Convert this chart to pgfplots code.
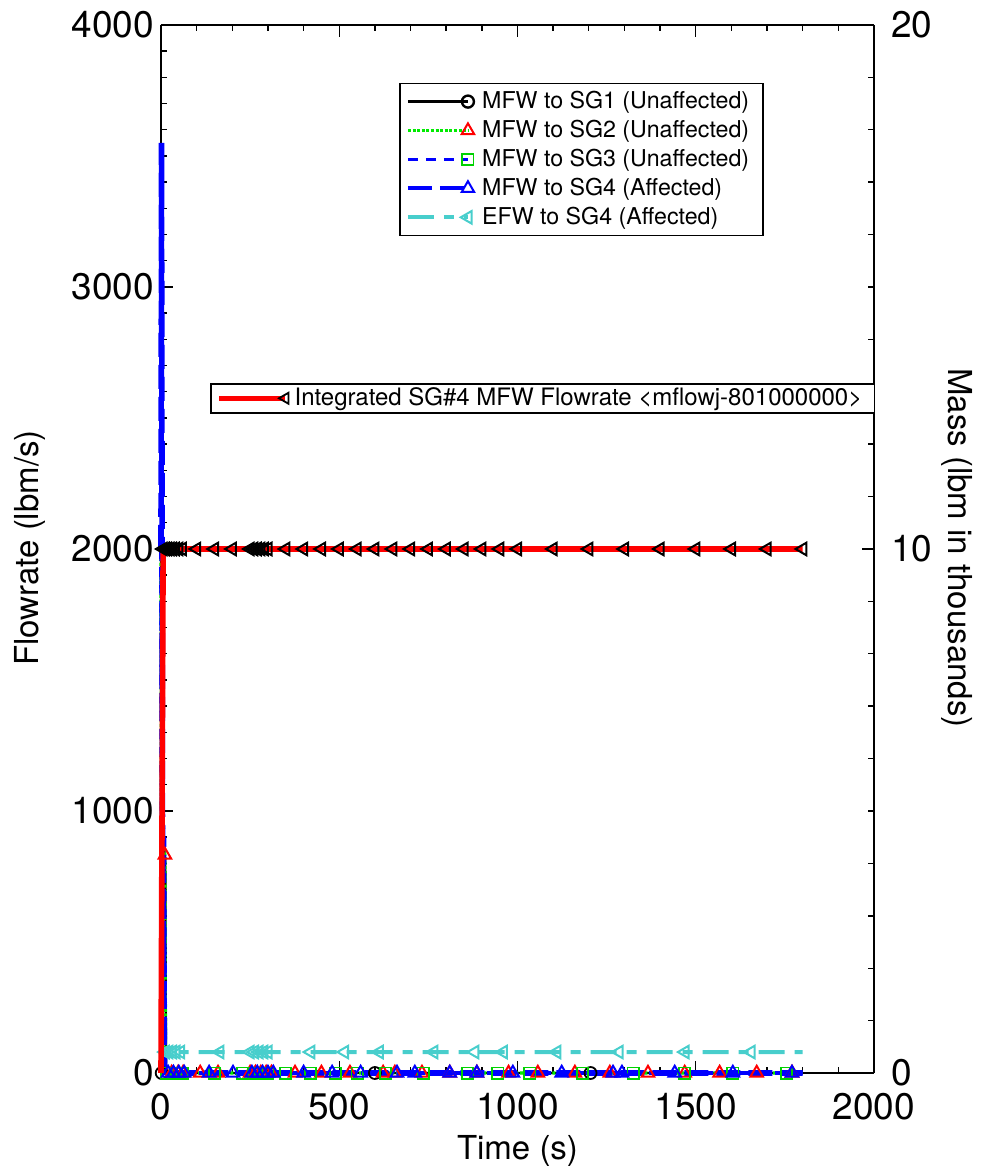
\documentclass[border=0pt]{standalone}
\usepackage{pgfplots}
\pgfplotsset{compat=1.18}
\usepackage{fontspec}
\setmainfont{TeX Gyre Heros}
\definecolor{efw}{RGB}{72,206,204}
\definecolor{sggreen}{RGB}{0,235,0}
\definecolor{sqgreen}{RGB}{0,210,0}

\pgfplotsset{
  common/.style={
    scale only axis, width=356.5pt, height=524pt,
    xmin=0, xmax=2000, clip=false,
    tick align=inside, major tick length=6pt, minor tick length=3pt,
    every tick/.style={black, line width=0.7pt},
    axis line style={line width=1pt},
    tick label style={font=\fontsize{18.5}{20}\selectfont},
    label style={font=\fontsize{16.5}{18}\selectfont},
    /pgf/number format/assume math mode=true,
    legend cell align=left,
  },
  endmark/.style={legend image code/.code={
    \draw[##1, mark=none] (0pt,0pt) -- (#1,0pt);
    \draw[##1, solid] plot coordinates {(#1,0pt)};}},
}

\begin{document}
\begin{tikzpicture}
\begin{axis}[common, name=ax,
  axis y line*=left,
  ymin=0, ymax=4000, ytick={0,1000,...,4000}, minor y tick num=9,
  xtick={0,500,...,2000}, minor x tick num=4,
  /pgf/number format/1000 sep={},
  xticklabel shift=6.5pt,
  xlabel={Time (s)}, ylabel={Flowrate (lbm/s)},
  xlabel style={at={(axis description cs:0.5,-0.074)}, anchor=center},
  ylabel style={at={(axis description cs:-0.184,0.501)}, anchor=center},
  endmark=30pt,
  legend style={at={(0.334,0.945)}, anchor=north west, draw=black, line width=0.8pt,
    font=\fontsize{11.6}{13}\selectfont, row sep=0.3pt,
    nodes={inner xsep=4pt}},
]
\addlegendimage{black, line width=1.2pt, mark=o, mark size=3pt}
\addlegendentry{MFW to SG1 (Unaffected)}
\addlegendimage{sggreen, line width=1.6pt, dash pattern=on 1.5pt off 0.8pt, mark=triangle, mark size=3.6pt, mark options={red, solid, line width=1pt}}
\addlegendentry{MFW to SG2 (Unaffected)}
\addlegendimage{blue, line width=1.8pt, dash pattern=on 5pt off 4pt, mark=square, mark size=2.8pt, mark options={sqgreen, solid, line width=0.9pt}}
\addlegendentry{MFW to SG3 (Unaffected)}
\addlegendimage{blue, line width=2pt, dash pattern=on 12pt off 4pt, mark=triangle, mark size=3.6pt, mark options={blue, solid, line width=1pt}}
\addlegendentry{MFW to SG4 (Affected)}
\addlegendimage{efw, line width=2pt, dash pattern=on 13pt off 5pt on 5pt off 5pt, mark=triangle, mark size=3.6pt, mark options={efw, solid, rotate=90, line width=1pt}}
\addlegendentry{EFW to SG4 (Affected)}

% EFW to SG4
\addplot[forget plot, efw, line width=2pt, dash pattern=on 13pt off 5pt on 5pt off 5pt] coordinates {(0,0) (8,80) (1800,80)};
\addplot[forget plot, only marks, mark=triangle, mark size=3.6pt, mark options={efw, rotate=90, line width=1pt}] coordinates {
(12,80) (22,80) (32,80) (42,80) (55,80) (165,80) (250,80) (262,80) (275,80) (288,80) (300,80)
(420,80) (515,80) (612,80) (765,80) (880,80) (960,80) (1110,80) (1285,80) (1470,80) (1655,80)};

% MFW to SG1
\addplot[forget plot, black, line width=1.2pt] coordinates {(0,2000) (1,1000) (12,800) (14,0) (1800,0)};
\addplot[forget plot, only marks, mark=o, mark size=3pt, mark options={black, line width=0.9pt}] coordinates {(2,0) (600,0) (1205,0)};

% MFW to SG2
\addplot[forget plot, sggreen, line width=1.6pt, dash pattern=on 1.5pt off 0.8pt] coordinates {(0,2000) (1,1000) (11,832) (13,0) (1800,0)};
\addplot[forget plot, only marks, mark=triangle, mark size=3.6pt, mark options={red, line width=1pt}] coordinates {
(11,832) (30,0) (48,0) (62,0) (110,0) (160,0) (250,0) (265,0) (280,0) (295,0) (310,0) (376,0) (450,0)
(530,0) (623,0) (656,0) (732,0) (810,0) (886,0) (975,0) (1057,0) (1161,0) (1259,0) (1366,0) (1469,0) (1567,0) (1671,0) (1770,0)};

% MFW to SG3
\addplot[forget plot, blue, line width=1.8pt, dash pattern=on 5pt off 4pt] coordinates {(0,2000) (1,1000) (10,900) (12,0) (1800,0)};
\addplot[forget plot, only marks, mark=square, mark size=2.8pt, mark options={sqgreen, line width=0.9pt}] coordinates {
(15,0) (40,0) (60,0) (150,0) (230,0) (260,0) (280,0) (300,0) (350,0) (420,0) (490,0) (550,0) (630,0)
(735,0) (860,0) (945,0) (1035,0) (1183,0) (1324,0) (1469,0) (1604,0) (1755,0)};

% MFW to SG4
\addplot[forget plot, blue, line width=2.8pt, dash pattern=on 12pt off 4pt] coordinates {(0,2000) (1.5,3550) (3,2100) (4,1000) (10,0) (1800,0)};
\addplot[forget plot, only marks, mark=triangle, mark size=3.6pt, mark options={blue, line width=1pt}] coordinates {
(20,0) (35,0) (50,0) (65,0) (135,0) (202,0) (255,0) (270,0) (285,0) (300,0) (315,0) (400,0) (480,0)
(560,0) (662,0) (712,0) (810,0) (886,0) (987,0) (1124,0) (1268,0) (1293,0) (1441,0) (1604,0) (1770,0)};
\end{axis}

\begin{axis}[common,
  axis y line*=right, axis x line=none,
  ymin=0, ymax=20, ytick={0,10,20}, minor y tick num=9,
  yticklabel shift=5pt,
  ylabel={Mass (lbm in thousands)},
  ylabel style={at={(axis description cs:1.116,0.501)}, anchor=center, rotate=180},
  endmark=33pt,
  legend style={at={(0.0687,0.6584)}, anchor=north west, draw=black, line width=0.8pt,
    font=\fontsize{12}{13}\selectfont, inner ysep=0pt, nodes={inner xsep=3pt}},
]
\addlegendimage{red, line width=2.6pt, mark=triangle, mark size=3.2pt, mark options={black, solid, rotate=90, line width=0.9pt}}
\addlegendentry{Integrated SG\#4 MFW Flowrate <mflowj-801000000>}
\addplot[forget plot, red, line width=2.8pt] coordinates {(0,0) (6,10) (1800,10)};
\addplot[forget plot, only marks, mark=triangle, mark size=3.6pt, mark options={black, rotate=90, line width=1pt}] coordinates {
(6,10) (12,10) (18,10) (25,10) (32,10) (40,10) (50,10) (60,10) (100,10) (150,10) (200,10)
(250,10) (260,10) (270,10) (280,10) (290,10) (300,10) (350,10) (400,10) (450,10) (500,10)
(550,10) (600,10) (650,10) (700,10) (750,10) (800,10) (850,10) (900,10) (950,10) (1000,10)
(1100,10) (1200,10) (1300,10) (1400,10) (1500,10) (1600,10) (1700,10) (1800,10)};
\end{axis}

\pgfresetboundingbox
\path[use as bounding box] ([shift={(-80.5pt,-47.5pt)}]ax.south west) rectangle ([shift={(54pt,12.5pt)}]ax.north east);
\end{tikzpicture}
\end{document}
